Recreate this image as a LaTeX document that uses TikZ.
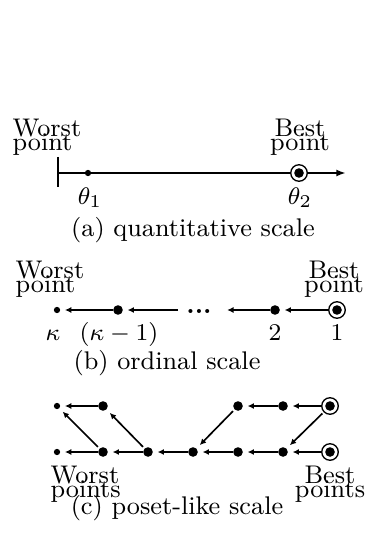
\documentclass[tikz,border=0pt]{standalone}
\usepackage{amsmath}
\usetikzlibrary{arrows.meta}
\tikzset{
	dot/.style={circle,fill,inner sep=0pt,minimum size=3.2pt},
	sdot/.style={circle,fill,inner sep=0pt,minimum size=2.1pt},
	best/.style={circle,draw,fill=white,line width=0.45pt,inner sep=0pt,minimum size=5.5pt,
		path picture={\fill[black] (path picture bounding box.center) circle[radius=1.6pt];}},
	harr/.style={-{Latex[length=2.1pt,width=2pt]},line width=0.9pt,shorten >=1.4pt},
	darr/.style={-{Latex[length=2.1pt,width=2pt]},line width=0.55pt,shorten >=1.4pt,shorten <=0.6pt},
	lbl/.style={inner sep=0pt,align=center},
}
\begin{document}
\begin{tikzpicture}[x=0.333pt,y=-0.333pt,font=\fontsize{8.5}{9.5}\selectfont]
	\useasboundingbox (0,0) rectangle (367,533);
	% (a) quantitative scale
	\coordinate (tk) at (58,173);
	\coordinate (aend) at (346,173);
	\draw[line width=0.9pt] (58,157)--(58,187);
	\draw[line width=0.9pt,-{Latex[length=3.2pt,width=2.3pt]}] (tk)--(aend);
	\node[sdot] (th1) at (88,173) {};
	\node[best] (th2) at (299,173) {};
	\node[lbl,anchor=base] (l1) at (90,204) {$\theta_1$};
	\node[lbl,anchor=base] (l2) at (300,204) {$\theta_2$};
	\node[lbl,align=left,anchor=north west] (wa) at (12,118) {Worst\\[-4.6pt]point};
	\node[lbl,anchor=north] (ba) at (300,118) {Best\\[-4.6pt]point};
	\node[lbl,anchor=base] (ca) at (193,236) {(a) quantitative scale};

	% (b) ordinal scale
	\node[sdot] (k) at (57,310) {};
	\node[dot] (k1) at (118,310) {};
	\coordinate (g1) at (178,310);
	\node[inner sep=0pt,anchor=base] (dd) at (199,313) {\bfseries...};
	\coordinate (g2) at (223,310);
	\node[dot] (n2) at (275,310) {};
	\node[best] (n1) at (337,310) {};
	\draw[harr] (k1)--(k);
	\draw[harr] (g1)--(k1);
	\draw[harr] (n2)--(g2);
	\draw[harr] (n1)--(n2);
	\node[lbl,anchor=base] at (53,340) {$\kappa$};
	\node[lbl,anchor=base] at (119,340) {$(\kappa-1)$};
	\node[lbl,anchor=base] at (275,340) {$2$};
	\node[lbl,anchor=base] at (337,340) {$1$};
	\node[lbl,align=left,anchor=north west] (wb) at (15,260) {Worst\\[-4.6pt]point};
	\node[lbl,anchor=north] (bb) at (334,260) {Best\\[-4.6pt]point};
	\node[lbl,anchor=base] (cb) at (167,369) {(b) ordinal scale};

	% (c) poset-like scale
	\node[sdot] (t0) at (57,406) {};
	\node[dot] (t1) at (103,406) {};
	\node[dot] (t4) at (238,406) {};
	\node[dot] (t5) at (283,406) {};
	\node[best] (t6) at (330,406) {};
	\node[sdot] (b0) at (57,452) {};
	\foreach \i/\x in {1/103,2/148,3/193,4/238,5/283}
		\node[dot] (b\i) at (\x,452) {};
	\node[best] (b6) at (330,452) {};
	\draw[harr] (t1)--(t0);
	\draw[harr] (t5)--(t4);
	\draw[harr] (t6)--(t5);
	\foreach \i/\j in {1/0,2/1,3/2,4/3,5/4,6/5}
		\draw[harr] (b\i)--(b\j);
	\draw[darr] (b1)--(t0);
	\draw[darr] (b2)--(t1);
	\draw[darr] (t4)--(b3);
	\draw[darr] (t6)--(b5);
	\node[lbl,align=left,anchor=north west] (wc) at (50,465) {Worst\\[-4.6pt]points};
	\node[lbl,anchor=north] (bc) at (330,465) {Best\\[-4.6pt]points};
	\node[lbl,anchor=base] (cc) at (177,514) {(c) poset-like scale};
\end{tikzpicture}
\end{document}
